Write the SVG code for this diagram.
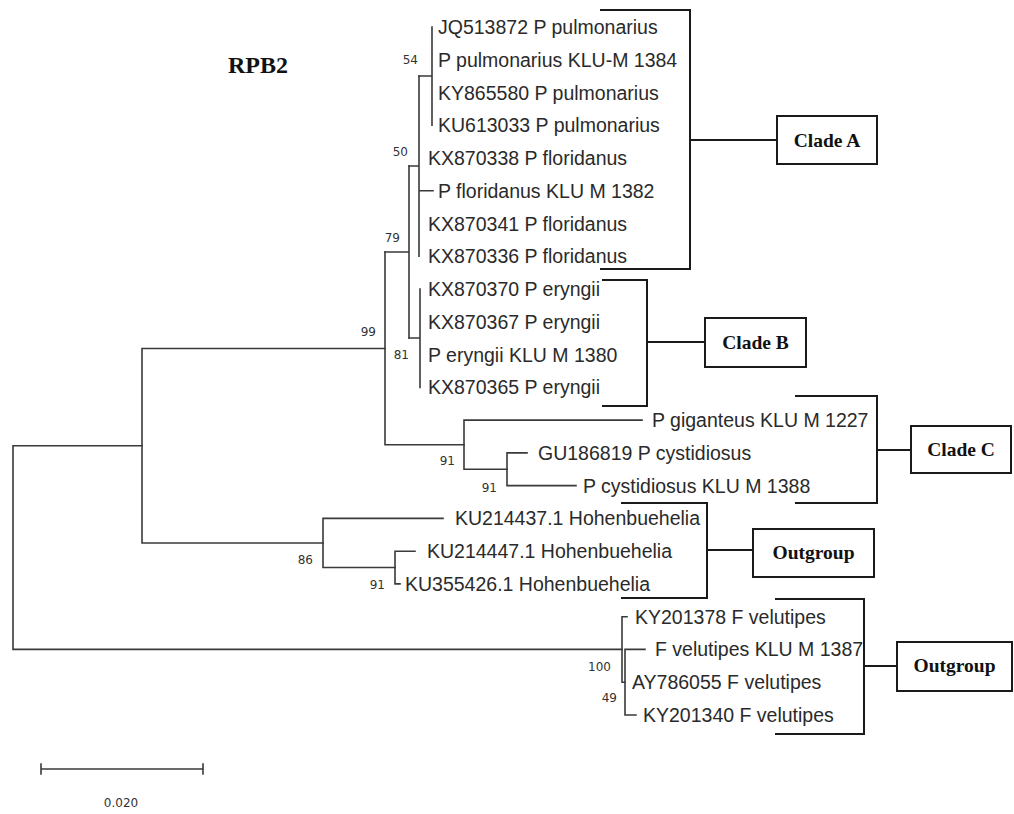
<svg xmlns="http://www.w3.org/2000/svg" width="1014" height="814" viewBox="0 0 1014 814">
<style>
.tx{font-family:"Liberation Sans",Arial,sans-serif;font-size:19.5px;fill:#2a2a2a}
.bs{font-family:"DejaVu Sans",Verdana,sans-serif;font-size:12px;fill:#333;text-anchor:end}
.br{fill:none;stroke:#3a3a3a;stroke-width:1.6;stroke-linecap:square}
.bk{fill:none;stroke:#1a1a1a;stroke-width:2}
.box{fill:#fff;stroke:#1a1a1a;stroke-width:2}
.cl{font-family:"Liberation Serif","Times New Roman",serif;font-weight:bold;font-size:19.5px;fill:#111;text-anchor:middle}
</style>
<rect width="1014" height="814" fill="#fff"/>
<text x="228" y="73" font-family="Liberation Serif,'Times New Roman',serif" font-weight="bold" font-size="24" fill="#111">RPB2</text>

<g id="connectors" class="br">
<!-- node 54 -->
<path d="M432,27V125.3M419,76H432"/>
<!-- node 50 -->
<path d="M419,76V256.3M409,166H419M419,190.8H433"/>
<!-- node 81 -->
<path d="M420,289.1V387.4M409,338H420"/>
<!-- node 79 -->
<path d="M409,166V338M385,252H409"/>
<!-- node 507 -->
<path d="M507,452.9V485.6M507,452.9H527M507,485.6H576"/>
<!-- node 464 -->
<path d="M464,420.1V469.3M464,420.1H642M464,469.3H507"/>
<!-- node 385 -->
<path d="M385,252V444.7M385,444.7H464"/>
<!-- node 395 -->
<path d="M395,551.2V583.9M395,551.2H415M395,583.9H400"/>
<!-- node 323 -->
<path d="M323,518.4V567.5M323,518.4H443M323,567.5H395"/>
<!-- node 142 -->
<path d="M142,348.5V543M142,348.5H385M142,543H323"/>
<!-- node 625 -->
<path d="M625,649.4V715M625,649.4H645M625,715H636"/>
<!-- node 622 -->
<path d="M622,616.7V682.2M622,616.7H627M622,682.2H625"/>
<!-- root -->
<path d="M13,445.7V649.4M13,445.7H142M13,649.4H622"/>
<!-- scale bar -->
<path d="M41,769H203M41,764V774M203,764V774"/>
</g>

<g id="clade-brackets" class="bk">
<path d="M600,10H690V269H600M690,140H777"/>
<path d="M602,280H647V406H602M647,342H705"/>
<path d="M795,396H877V503H795M877,450H911"/>
<path d="M621,503H707V598H621M707,550H753"/>
<path d="M775,599H864V734H775M864,666H897"/>
</g>

<g id="support">
<text class="bs" x="418" y="64">54</text>
<text class="bs" x="408" y="156">50</text>
<text class="bs" x="400" y="242">79</text>
<text class="bs" x="376" y="336">99</text>
<text class="bs" x="409" y="359">81</text>
<text class="bs" x="455" y="465">91</text>
<text class="bs" x="497" y="492">91</text>
<text class="bs" x="313" y="564">86</text>
<text class="bs" x="385" y="589">91</text>
<text class="bs" x="611" y="671">100</text>
<text class="bs" x="617" y="702">49</text>
</g>

<g id="taxa">
<g id="t1"><text class="tx" x="438" y="34">JQ513872 P pulmonarius</text></g>
<g id="t2"><text class="tx" x="438" y="66.8">P pulmonarius KLU-M 1384</text></g>
<g id="t3"><text class="tx" x="438" y="99.5">KY865580 P pulmonarius</text></g>
<g id="t4"><text class="tx" x="438" y="132.3">KU613033 P pulmonarius</text></g>
<g id="t5"><text class="tx" x="428" y="165">KX870338 P floridanus</text></g>
<g id="t6"><text class="tx" x="438" y="197.8">P floridanus KLU M 1382</text></g>
<g id="t7"><text class="tx" x="428" y="230.6">KX870341 P floridanus</text></g>
<g id="t8"><text class="tx" x="428" y="263.3">KX870336 P floridanus</text></g>
<g id="t9"><text class="tx" x="428" y="296.1">KX870370 P eryngii</text></g>
<g id="t10"><text class="tx" x="428" y="328.8">KX870367 P eryngii</text></g>
<g id="t11"><text class="tx" x="428" y="361.6">P eryngii KLU M 1380</text></g>
<g id="t12"><text class="tx" x="428" y="394.4">KX870365 P eryngii</text></g>
<g id="t13"><text class="tx" x="652" y="427.1">P giganteus KLU M 1227</text></g>
<g id="t14"><text class="tx" x="538" y="459.9">GU186819 P cystidiosus</text></g>
<g id="t15"><text class="tx" x="583" y="492.6">P cystidiosus KLU M 1388</text></g>
<g id="t16"><text class="tx" x="455" y="525.4">KU214437.1 Hohenbuehelia</text></g>
<g id="t17"><text class="tx" x="427" y="558.2">KU214447.1 Hohenbuehelia</text></g>
<g id="t18"><text class="tx" x="405" y="590.9">KU355426.1 Hohenbuehelia</text></g>
<g id="t19"><text class="tx" x="635" y="623.7">KY201378 F velutipes</text></g>
<g id="t20"><text class="tx" x="655" y="656.4">F velutipes KLU M 1387</text></g>
<g id="t21"><text class="tx" x="632" y="689.2">AY786055 F velutipes</text></g>
<g id="t22"><text class="tx" x="643" y="722">KY201340 F velutipes</text></g>
</g>

<g id="cladeA"><rect class="box" x="777" y="116" width="100" height="48"/><text class="cl" x="827" y="147">Clade A</text></g>
<g id="cladeB"><rect class="box" x="705" y="318" width="101" height="49"/><text class="cl" x="755.5" y="349">Clade B</text></g>
<g id="cladeC"><rect class="box" x="911" y="426" width="100" height="47"/><text class="cl" x="961" y="456">Clade C</text></g>
<g id="outgroup1"><rect class="box" x="753" y="529" width="121" height="48"/><text class="cl" x="813.5" y="559">Outgroup</text></g>
<g id="outgroup2"><rect class="box" x="897" y="642" width="115" height="49"/><text class="cl" x="954.5" y="672">Outgroup</text></g>

<g id="scale"><text x="121" y="807" font-family="DejaVu Sans,Verdana,sans-serif" font-size="12" fill="#333" text-anchor="middle">0.020</text></g>
</svg>
